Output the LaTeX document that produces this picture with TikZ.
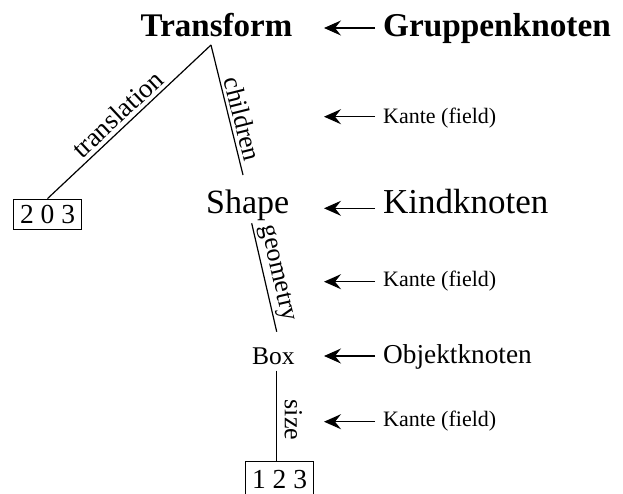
\documentclass[tikz,border=0pt]{standalone}
\usepackage{fontspec}
\setmainfont{Liberation Serif}
\usetikzlibrary{arrows.meta}
\begin{document}
\begin{tikzpicture}[x=1pt,y=-1pt,
  txt/.style={inner sep=0pt,anchor=base},
  lbl/.style={inner sep=0pt,anchor=base west},
  edgelbl/.style={inner sep=0pt,font=\fontsize{26}{30}\selectfont},
  numbox/.style={draw,line width=0.8pt,inner sep=0pt,minimum width=68pt,font=\fontsize{27.5}{30}\selectfont},
  conn/.style={line width=1.2pt},
  pointer/.style={line width=1.3pt,-{Stealth[length=17pt,width=15pt,inset=6pt]}}]
\useasboundingbox (0,0) rectangle (623,493);
% tree nodes
\node[txt,font=\fontsize{33}{38}\selectfont\bfseries] (T) at (216.5,36) {Transform};
\node[txt,font=\fontsize{34}{40}\selectfont] (S) at (247.7,213) {Shape};
\node[txt,font=\fontsize{25.5}{30}\selectfont] (B) at (273.3,364) {Box};
\node[numbox,minimum height=30pt] (n203) at (47.5,214) {2 0 3};
\node[numbox,minimum height=36pt] (n123) at (279.5,479.7) {1 2 3};
% connector ends
\coordinate (tA) at (211,45);
\coordinate (sT) at (243,175);
\coordinate (sB) at (251.7,223.3);
\coordinate (bT) at (276.7,331.7);
\coordinate (bB) at (276.7,370.7);
% connectors
\draw[conn] (n203.north) -- (tA);
\draw[conn] (tA) -- (sT);
\draw[conn] (sB) -- (bT);
\draw[conn] (bB) -- (bB |- n123.north);
% edge labels
\node[edgelbl,rotate=43,font=\fontsize{27}{30}\selectfont] (lt) at (117.4,114) {translation};
\node[edgelbl,rotate=-76] (lc) at (242.5,119) {children};
\node[edgelbl,rotate=-77] (lg) at (276.7,273.3) {geometry};
\node[edgelbl,rotate=-90] (ls) at (293.3,420) {size};
% legend
\node[lbl,font=\fontsize{33.3}{38}\selectfont\bfseries] (g1) at (383,36) {Gruppenknoten};
\node[lbl,font=\fontsize{22}{26}\selectfont] (k1) at (383,123.3) {Kante (field)};
\node[lbl,font=\fontsize{35}{40}\selectfont] (g2) at (383,213) {Kindknoten};
\node[lbl,font=\fontsize{22}{26}\selectfont] (k2) at (383,286.7) {Kante (field)};
\node[lbl,font=\fontsize{27.3}{30}\selectfont] (g3) at (383,363) {Objektknoten};
\node[lbl,font=\fontsize{22}{26}\selectfont] (k3) at (383,426) {Kante (field)};
% pointer arrows
\foreach \n/\y in {a1/28,a2/116.7,a3/208.3,a4/281.7,a5/356,a6/421.7}{
  \coordinate (\n s) at (375,\y);
  \coordinate (\n e) at (324,\y);
  \draw[pointer] (\n s) -- (\n e);
}
\end{tikzpicture}
\end{document}
